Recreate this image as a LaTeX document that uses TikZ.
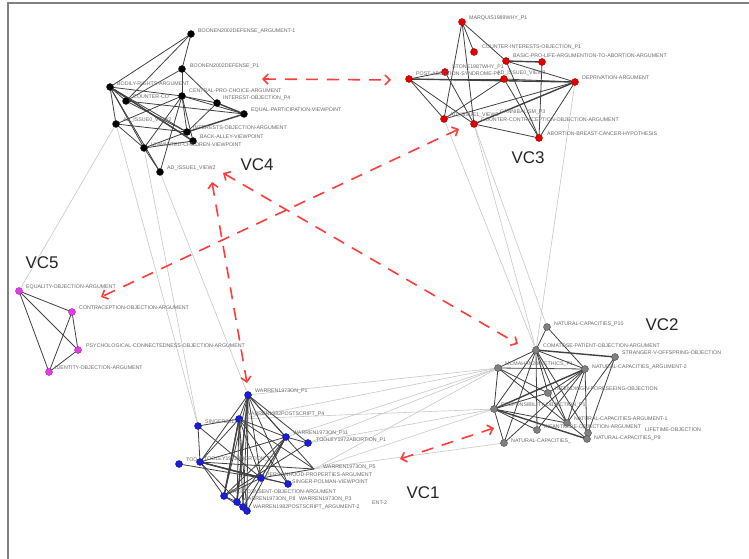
\documentclass[tikz,border=0pt]{standalone}
\usepackage{fontspec}
\setmainfont{Liberation Sans}
\usetikzlibrary{arrows.meta}
\definecolor{cred}{RGB}{228,0,0}
\definecolor{cmag}{RGB}{228,60,228}
\definecolor{cblue}{RGB}{25,30,215}
\definecolor{cgray}{RGB}{128,128,128}
\definecolor{arrred}{RGB}{255,60,60}
\definecolor{lblgray}{RGB}{105,105,105}
\definecolor{edgegray}{RGB}{65,65,65}
\definecolor{crossgray}{RGB}{200,200,200}
\tikzset{
  vtx/.style={circle,inner sep=0pt,minimum size=7bp,draw=black!85,line width=0.4bp},
  v4/.style={vtx,fill=black},
  v3/.style={vtx,fill=cred,draw=cred!70!black},
  v5/.style={vtx,fill=cmag,draw=cmag!70!black},
  v2/.style={vtx,fill=cgray,draw=black!70},
  v1/.style={vtx,fill=cblue,draw=cblue!70!black},
  lbl/.style={anchor=west,inner sep=0pt,text=lblgray,font=\fontsize{5.3}{5.5}\selectfont},
  vcl/.style={inner sep=0pt,font=\fontsize{17}{17}\selectfont,text=black!85},
  ed/.style={draw=edgegray,line width=0.8bp},
  edk/.style={draw=edgegray,line width=1.4bp},
  cross/.style={draw=crossgray,line width=0.6bp},
  redarr/.style={draw=arrred,line width=1.6bp,dash pattern=on 12bp off 9bp,
     {Straight Barb[length=5bp,width=10bp,line width=1.6bp]}-{Straight Barb[length=5bp,width=10bp,line width=1.6bp]}}
}
\begin{document}
\begin{tikzpicture}[x=1bp,y=-1bp]
\useasboundingbox (0,0) rectangle (749,559);
\fill[white] (0,0) rectangle (749,559);
\draw[gray,line width=1.4bp] (8,559) -- (8,3) -- (749,3);

% ---------- VC4 nodes
\coordinate (b1) at (191,34);
\coordinate (bp1) at (182,69);
\coordinate (bod) at (110,87);
\coordinate (cco) at (126,101);
\coordinate (cen) at (182,96);
\coordinate (ip4) at (217,103);
\coordinate (eqp) at (244,114);
\coordinate (ad0) at (116,124);
\coordinate (ioa) at (187,132);
\coordinate (bav) at (193,141);
\coordinate (ucv) at (144,148);
\coordinate (ad1) at (160,172);
% ---------- VC3
\coordinate (mar) at (462,22);
\coordinate (cip) at (474,52);
\coordinate (bpl) at (506,61);
\coordinate (bpx) at (542,62);
\coordinate (sto) at (445,72);
\coordinate (pas) at (409,79);
\coordinate (a03) at (504,79);
\coordinate (dep) at (575,82);
\coordinate (a13) at (444,119);
\coordinate (cca) at (474,124);
\coordinate (abc) at (539,138);
% ---------- VC5
\coordinate (eqo) at (19,291);
\coordinate (coa) at (72,312);
\coordinate (psy) at (78,350);
\coordinate (ido) at (49,372);
% ---------- VC2
\coordinate (n10) at (547,327);
\coordinate (com) at (536,350);
\coordinate (str) at (615,357);
\coordinate (mcm) at (498,368);
\coordinate (nc2) at (585,369);
\coordinate (ivf) at (548,393);
\coordinate (res) at (494,409);
\coordinate (nc1) at (567,423);
\coordinate (inf) at (537,430);
\coordinate (obj) at (588,433);
\coordinate (np9) at (587,439);
\coordinate (ncx) at (504,443);
% ---------- VC1
\coordinate (w1) at (248,395);
\coordinate (w4) at (239,419);
\coordinate (sg) at (198,426);
\coordinate (w11) at (286,437);
\coordinate (t1) at (308,443);
\coordinate (too) at (179,464);
\coordinate (t2) at (200,462);
\coordinate (w5) at (314,469);
\coordinate (per) at (261,478);
\coordinate (spv) at (288,484);
\coordinate (tc) at (224,496);
\coordinate (w8) at (237,502);
\coordinate (n43) at (243,507);
\coordinate (w2) at (247,511);

% ---------- cross-cluster light edges
\foreach \a/\b in {eqo/ad0, ad0/sg, ad1/w1, ucv/sg, cca/com, a13/com, dep/com, cca/n10,
  mcm/w1, mcm/w4, mcm/t1, mcm/w5, res/w5, res/w4, ncx/w5, mcm/w11, res/t1}
  \draw[cross] (\a) -- (\b);

% ---------- VC4 edges
\foreach \a/\b in {b1/bod, b1/bp1, b1/cco, bp1/cco, bp1/cen, bp1/ip4, bod/cco, bod/cen,
  bod/ioa, bod/bav, bod/ad0, bod/ucv, cco/eqp, cco/ioa, cen/ip4, cen/eqp, cen/ioa, cen/bav,
  cen/ucv, cen/ad1, cen/ad0, ip4/ioa, ad0/ucv, ad0/ioa, ucv/ioa, ucv/ad1, ucv/bav, bod/ad1}
  \draw[ed] (\a) -- (\b);
\draw[edk] (eqp) -- (ioa);
\draw[edk] (ip4) -- (eqp);
\draw[edk] (bod) -- (bav);
% ---------- VC3 edges
\foreach \a/\b in {mar/cip, mar/bpl, mar/cca, mar/a13, pas/a03, pas/cca, sto/cca, sto/pas,
  bpl/dep, a03/dep, dep/abc, bpx/abc, a03/abc, cca/abc, a13/a03, pas/a13, bpl/abc, dep/a13}
  \draw[ed] (\a) -- (\b);
\draw[edk] (pas) -- (dep);
\draw[edk] (bpl) -- (bpx);
\draw[edk] (dep) -- (cca);
% ---------- VC5 edges
\foreach \a/\b in {eqo/coa, eqo/psy, eqo/ido, coa/psy, coa/ido, psy/ido}
  \draw[ed] (\a) -- (\b);
% ---------- VC2 edges
\foreach \a/\b in {n10/com, n10/nc2, com/mcm, com/nc2, com/ivf, com/res, com/nc1, com/inf,
  com/obj, com/ncx, mcm/res, mcm/nc1, mcm/nc2, mcm/ivf, nc2/ivf, nc2/nc1, nc2/np9, str/nc1,
  str/obj, res/nc1, res/ivf, res/ncx, ivf/nc1, nc1/np9, inf/res, inf/nc2, ncx/nc2}
  \draw[ed] (\a) -- (\b);
\draw[edk] (com) -- (str);
\draw[edk] (nc2) -- (res);
\draw[edk] (res) -- (np9);
% ---------- VC1 edges
\foreach \a/\b in {w1/w4, w1/w11, w1/t1, w1/t2, w1/per, w1/spv, w1/tc, w1/w8, w1/n43, w1/w2,
  w1/w5, w4/sg, w4/w11, w4/t2, w4/per, w4/spv, w4/tc, w4/w8, w4/w2, w4/w5, sg/per, w11/t1,
  w11/t2, w11/tc, w11/w8, w11/per, w11/w2, t1/tc, too/per, t2/per, t2/spv, t2/w5, t2/w2,
  t2/tc, per/spv, per/tc, per/w5, tc/w8, tc/w2, w8/w2, n43/w2, w11/n43, w4/n43, sg/t2}
  \draw[ed] (\a) -- (\b);
\draw[edk] (w1) -- (w8);
\draw[edk] (w4) -- (tc);
\draw[edk] (t2) -- (per);

% ---------- vertices
\foreach \c in {b1,bp1,bod,cco,cen,ip4,eqp,ad0,ioa,bav,ucv,ad1} \node[v4] at (\c) {};
\foreach \c in {mar,cip,bpl,bpx,sto,pas,a03,dep,a13,cca,abc} \node[v3] at (\c) {};
\foreach \c in {eqo,coa,psy,ido} \node[v5] at (\c) {};
\foreach \c in {n10,com,str,mcm,nc2,ivf,res,nc1,inf,obj,np9,ncx} \node[v2] at (\c) {};
\foreach \c in {w1,w4,sg,w11,t1,too,t2,per,spv,tc,w8,n43,w2} \node[v1] at (\c) {};

% ---------- labels VC4
\node[lbl] (lb1) at (198,31) {BOONEN2002DEFENSE\_ARGUMENT-1};
\node[lbl] (lbp1) at (190,66) {BOONEN2002DEFENSE\_P1};
\node[lbl] (lbod) at (117,84) {BODILY-RIGHTS-ARGUMENT};
\node[lbl] (lcco) at (133,97) {COUNTER-CO};
\node[lbl] (lcen) at (189,91) {CENTRAL-PRO-CHOICE-ARGUMENT};
\node[lbl] (lip4) at (223,98) {INTEREST-OBJECTION\_P4};
\node[lbl] (leqp) at (251,110) {EQUAL-PARTICIPATION-VIEWPOINT};
\node[lbl] (lad0) at (123,120) {AD\_ISSUE0\_VIEW2};
\node[lbl] (lioa) at (193,128) {INTERESTS-OBJECTION-ARGUMENT};
\node[lbl] (lbav) at (200,137) {BACK-ALLEY-VIEWPOINT};
\node[lbl] (lucv) at (151,145) {UNWANTED-CHILDREN-VIEWPOINT};
\node[lbl] (lad1) at (167,168) {AD\_ISSUE1\_VIEW2};
% ---------- labels VC3
\node[lbl] (lmar) at (469,18) {MARQUIS1989WHY\_P1};
\node[lbl] (lcip) at (482,47) {COUNTER-INTERESTS-OBJECTION\_P1};
\node[lbl] (lbpl) at (513,56) {BASIC-PRO-LIFE-ARGUMENTION-TO-ABORTION-ARGUMENT};
\node[lbl] (lsto) at (452,67) {STONE1987WHY\_P1};
\node[lbl] (lpas) at (416,74) {POST-ABORTION-SYNDROME-P1};
\node[lbl] (la03) at (497,73) {AD\_ISSUE0\_VIEW3};
\node[lbl] (ldep) at (582,78) {DEPRIVATION-ARGUMENT};
\node[lbl] (la13) at (450,115) {AD\_ISSUE1\_VIEW3};
\node[lbl] (lcan) at (500,112) {CANNIBALISM\_P3};
\node[lbl] (lcca) at (481,120) {COUNTER-CONTRACEPTION-OBJECTION-ARGUMENT};
\node[lbl] (labc) at (547,134) {ABORTION-BREAST-CANCER-HYPOTHESIS};
% ---------- labels VC5
\node[lbl] (leqo) at (26,287) {EQUALITY-OBJECTION-ARGUMENT};
\node[lbl] (lcoa) at (79,308) {CONTRACEPTION-OBJECTION-ARGUMENT};
\node[lbl] (lpsy) at (86,346) {PSYCHOLOGICAL-CONNECTEDNESS-OBJECTION-ARGUMENT};
\node[lbl] (lido) at (55,368) {IDENTITY-OBJECTION-ARGUMENT};
% ---------- labels VC2
\node[lbl] (ln10) at (554,324) {NATURAL-CAPACITIES\_P10};
\node[lbl] (lcom) at (543,346) {COMATOSE-PATIENT-OBJECTION-ARGUMENT};
\node[lbl] (lstr) at (622,353) {STRANGER-V-OFFSPRING-OBJECTION};
\node[lbl] (lmcm) at (505,364) {MCMAHAN2002ETHICS\_P1};
\node[lbl] (lnc2) at (592,367) {NATURAL-CAPACITIES\_ARGUMENT-2};
\node[lbl] (livf) at (555,389) {INTENDING-V-FORESEEING-OBJECTION};
\node[lbl] (lres) at (501,405) {RESPONSIBILITY-OBJECTION\_P1};
\node[lbl] (lnc1) at (574,419) {NATURAL-CAPACITIES-ARGUMENT-1};
\node[lbl] (linf) at (544,427) {INFANTICIDE-OBJECTION-ARGUMENT};
\node[lbl] (lobj) at (645,430) {LIFETIME-OBJECTION};
\node[lbl] (lnp9) at (594,438) {NATURAL-CAPACITIES\_P9};
\node[lbl] (lncx) at (511,441) {NATURAL-CAPACITIES\_};
% ---------- labels VC1
\node[lbl] (lw1) at (255,391) {WARREN1973ON\_P1};
\node[lbl] (lw4) at (246,414) {WARREN1982POSTSCRIPT\_P4};
\node[lbl] (lsg) at (205,422) {SINGER2011\_P1};
\node[lbl] (lw11) at (293,433) {WARREN1973ON\_P11};
\node[lbl] (lt1) at (316,440) {TOOLEY1972ABORTION\_P1};
\node[lbl] (ltoo) at (186,460) {TOO};
\node[lbl] (lt2) at (204,459) {TOOLEY1972ABORTION\_P2};
\node[lbl] (lw5) at (323,467) {WARREN1973ON\_P5};
\node[lbl] (lper) at (266,475) {PERSONHOOD-PROPERTIES-ARGUMENT};
\node[lbl] (lspv) at (292,482) {SINGER-POLMAN-VIEWPOINT};
\node[lbl] (ltc) at (230,492) {TACIT-CONSENT-OBJECTION-ARGUMENT};
\node[lbl] (lw8) at (243,499) {WARREN1973ON\_P8};
\node[lbl] (lw3) at (299,499) {WARREN1973ON\_P3};
\node[lbl] (lent) at (372,503) {ENT-2};
\node[lbl] (lw2) at (253,507) {WARREN1982POSTSCRIPT\_ARGUMENT-2};

% ---------- cluster labels
\node[vcl] (vc4) at (257,165) {VC4};
\node[vcl] (vc3) at (528,158) {VC3};
\node[vcl] (vc5) at (42,263) {VC5};
\node[vcl] (vc2) at (662,325) {VC2};
\node[vcl] (vc1) at (423,493) {VC1};

% ---------- red dashed double arrows
\coordinate (r1a) at (262,79);
\coordinate (r1b) at (391,80);
\coordinate (r2a) at (459,129);
\coordinate (r2b) at (101,297);
\coordinate (r3a) at (223,173);
\coordinate (r3b) at (518,344);
\coordinate (r4a) at (212,182);
\coordinate (r4b) at (247,383);
\coordinate (r5a) at (400,459);
\coordinate (r5b) at (494,428);
\draw[redarr] (r1a) -- (r1b);
\draw[redarr] (r2a) -- (r2b);
\draw[redarr] (r3a) -- (r3b);
\draw[redarr] (r4a) -- (r4b);
\draw[redarr] (r5a) -- (r5b);
\end{tikzpicture}
\end{document}
